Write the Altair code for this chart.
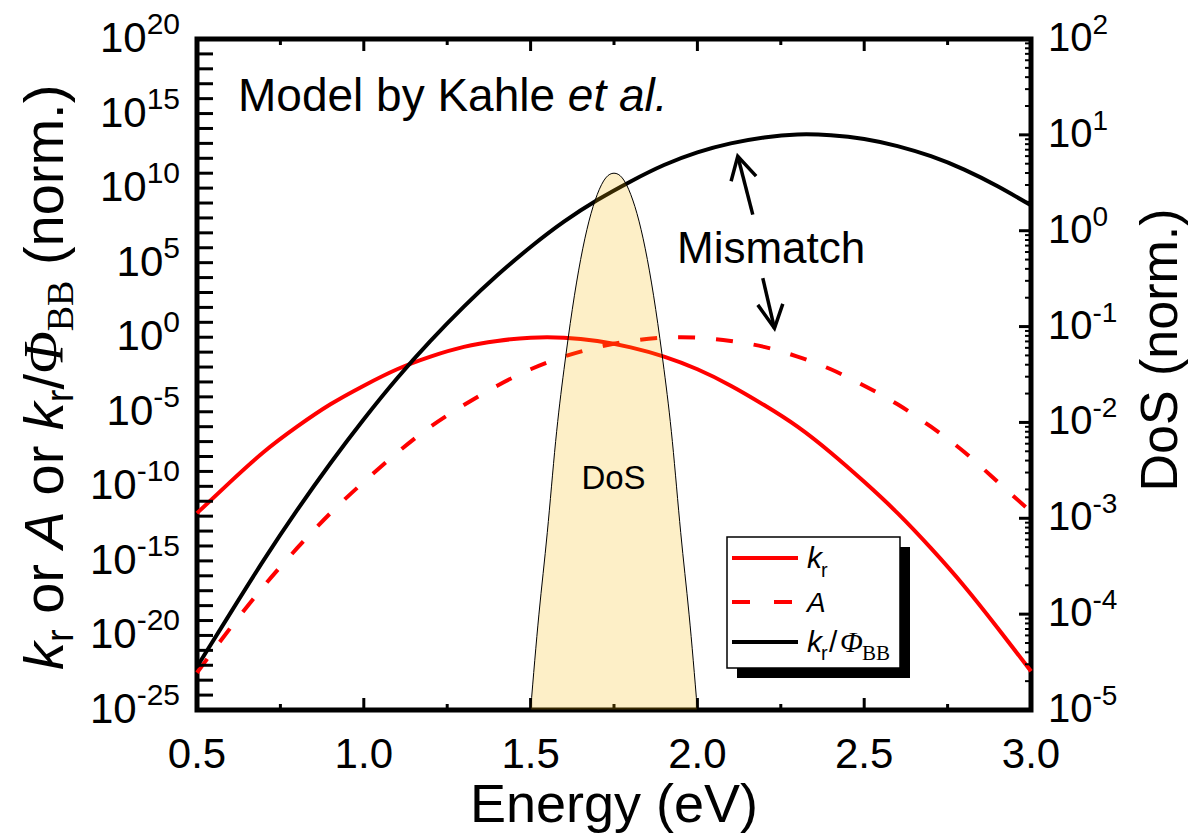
import altair as alt
import pandas as pd

# ---------------- data (log10 values) ----------------
energy = [0.5, 0.6, 0.7, 0.8, 0.9, 1.0, 1.1, 1.2, 1.3, 1.4, 1.5, 1.6, 1.7,
          1.8, 1.9, 2.0, 2.1, 2.2, 2.3, 2.4, 2.5, 2.6, 2.7, 2.8, 2.9, 3.0]
log_kr = [-11.8, -9.7, -7.7, -6.0, -4.5, -3.25, -2.15, -1.3, -0.65, -0.25, -0.03,
          -0.03, -0.25, -0.68, -1.3, -2.15, -3.25, -4.55, -6.0, -7.75, -9.7,
          -11.8, -14.15, -16.7, -19.5, -22.4]
log_A = [-22.5, -19.5, -16.7, -14.15, -11.8, -9.7, -7.75, -6.0, -4.55, -3.25,
         -2.15, -1.3, -0.68, -0.25, -0.03, -0.03, -0.25, -0.65, -1.3, -2.15,
         -3.25, -4.5, -6.0, -7.7, -9.7, -11.7]
log_kbb = [-22.1, -18.5, -14.95, -11.6, -8.45, -5.5, -2.75, -0.25, 2.05, 4.15,
           6.05, 7.75, 9.2, 10.45, 11.55, 12.4, 13.0, 13.4, 13.6, 13.55, 13.3,
           12.82, 12.14, 11.24, 10.12, 8.85]

dos_energy = [1.5, 1.525, 1.55, 1.575, 1.6, 1.625, 1.65, 1.675, 1.7, 1.725, 1.75,
              1.775, 1.8, 1.825, 1.85, 1.875, 1.9, 1.925, 1.95, 1.975, 2.0]
log_dos = [-5.0, -4.0, -3.15, -2.2, -1.45, -0.82, -0.3, 0.1, 0.38, 0.55, 0.6,
           0.55, 0.38, 0.1, -0.3, -0.82, -1.45, -2.2, -3.15, -4.0, -5.0]
dos_floor = 1e-5

# tick labels
left_exps = [20, 15, 10, 5, 0, -5, -10, -15, -20, -25]
right_exps = [2, 1, 0, -1, -2, -3, -4, -5]
x_major = [0.5, 1.0, 1.5, 2.0, 2.5, 3.0]
x_minor = [0.75, 1.25, 1.75, 2.25, 2.75]

# annotation arrows (energy, log10 value), group
arrow_E = [2.166, 2.121, 2.101, 2.121, 2.176, 2.196, 2.231, 2.181, 2.231, 2.256]
arrow_v = [8.22, 12.14, 10.46, 12.14, 10.8, 3.96, 0.6, 2.17, 0.6, 2.24]
arrow_g = [0, 0, 1, 1, 1, 2, 2, 3, 3, 3]

# ---------------- layout ----------------
W, H = 834, 671
SANS = "Liberation Sans"
SERIF = "Liberation Serif"

xs = alt.Scale(domain=[0.5, 3.0], nice=False, zero=False)
yl = alt.Scale(type="log", domain=[1e-25, 1e20], nice=False)
yr = alt.Scale(type="log", domain=[1e-5, 1e2], nice=False)

curves = pd.DataFrame({
    "E": energy,
    "kr": [10.0 ** v for v in log_kr],
    "A": [10.0 ** v for v in log_A],
    "kbb": [10.0 ** v for v in log_kbb],
})
dos = pd.DataFrame({"E": dos_energy, "d": [10.0 ** v for v in log_dos]})
arrows = pd.DataFrame({"E": arrow_E, "v": [10.0 ** v for v in arrow_v],
                       "g": arrow_g, "o": list(range(len(arrow_E)))})

X = alt.X("E:Q", scale=xs, axis=None)

line_kr = alt.Chart(curves).mark_line(color="#ff0000", strokeWidth=4, interpolate="natural").encode(
    x=X, y=alt.Y("kr:Q", scale=yl, axis=None))
line_A = alt.Chart(curves).mark_line(color="#ff0000", strokeWidth=4, strokeDash=[17, 21],
                                     interpolate="natural").encode(
    x=X, y=alt.Y("A:Q", scale=yl, axis=None))
line_k = alt.Chart(curves).mark_line(color="black", strokeWidth=4, interpolate="natural").encode(
    x=X, y=alt.Y("kbb:Q", scale=yl, axis=None))

dos_area = alt.Chart(dos).mark_area(fill="#F5B400", fillOpacity=0.22, stroke="black",
                                    strokeWidth=1, interpolate="natural").encode(
    x=X, y=alt.Y("d:Q", scale=yr, axis=None), y2=alt.datum(dos_floor))

arrow_layer = alt.Chart(arrows).mark_line(color="black", strokeWidth=3.5).encode(
    x=X, y=alt.Y("v:Q", scale=yl, axis=None), detail="g:N", order="o:Q")

# ticks (inward)
lt = pd.DataFrame({"v": [10.0 ** k for k in range(-25, 21)]})
left_ticks = alt.Chart(lt).mark_rule(color="black", strokeWidth=3).encode(
    y=alt.Y("v:Q", scale=yl, axis=None), x=alt.value(0), x2=alt.value(16))

rmaj = pd.DataFrame({"v": [10.0 ** k for k in range(-5, 3)]})
rmin = pd.DataFrame({"v": [m * 10.0 ** k for k in range(-5, 2) for m in range(2, 10)]})
right_major = alt.Chart(rmaj).mark_rule(color="black", strokeWidth=3).encode(
    y=alt.Y("v:Q", scale=yr, axis=None), x=alt.value(W - 12), x2=alt.value(W))
right_minor = alt.Chart(rmin).mark_rule(color="black", strokeWidth=2).encode(
    y=alt.Y("v:Q", scale=yr, axis=None), x=alt.value(W - 6), x2=alt.value(W))

xmaj = pd.DataFrame({"t": x_major})
xmin = pd.DataFrame({"t": x_minor})
XT = alt.X("t:Q", scale=xs, axis=None)
bot_major = alt.Chart(xmaj).mark_rule(color="black", strokeWidth=3).encode(
    x=XT, y=alt.value(H), y2=alt.value(H - 12))
bot_minor = alt.Chart(xmin).mark_rule(color="black", strokeWidth=3).encode(
    x=XT, y=alt.value(H), y2=alt.value(H - 6))
top_major = alt.Chart(xmaj).mark_rule(color="black", strokeWidth=3).encode(
    x=XT, y=alt.value(0), y2=alt.value(12))
top_minor = alt.Chart(xmin).mark_rule(color="black", strokeWidth=3).encode(
    x=XT, y=alt.value(0), y2=alt.value(6))

# tick labels
x_labels = alt.Chart(xmaj).mark_text(font=SANS, fontSize=42, align="center",
                                     baseline="alphabetic", color="black").encode(
    x=XT, y=alt.value(H + 58), text=alt.Text("t:Q", format=".1f"))

LX = -17
ldf = pd.DataFrame({"v": [10.0 ** e for e in left_exps], "exp": [str(e) for e in left_exps]})
left_ten = alt.Chart(ldf).transform_calculate(
    xp=f"{LX} - 16.7*length(replace(datum.exp, '-', '')) - (indexof(datum.exp, '-') >= 0 ? 10 : 0)"
).mark_text(font=SANS, fontSize=42, align="right", baseline="middle", color="black").encode(
    y=alt.Y("v:Q", scale=yl, axis=None), x=alt.X("xp:Q", scale=None), text=alt.value("10"))
left_exp = alt.Chart(ldf).mark_text(font=SANS, fontSize=30, align="right", baseline="middle",
                                    dy=-14, color="black").encode(
    y=alt.Y("v:Q", scale=yl, axis=None), x=alt.value(LX), text="exp:N")

RX = W + 17
rdf = pd.DataFrame({"v": [10.0 ** e for e in right_exps], "exp": [str(e) for e in right_exps]})
right_ten = alt.Chart(rdf).mark_text(font=SANS, fontSize=40, align="left", baseline="middle",
                                     color="black").encode(
    y=alt.Y("v:Q", scale=yr, axis=None), x=alt.value(RX), text=alt.value("10"))
right_exp = alt.Chart(rdf).mark_text(font=SANS, fontSize=28, align="left", baseline="middle",
                                     dy=-13, color="black").encode(
    y=alt.Y("v:Q", scale=yr, axis=None), x=alt.value(RX + 44.5), text="exp:N")

one = pd.DataFrame({"a": [0]})


def T(s, x, y, size, font=SANS, style="normal", angle=0, align="left", baseline="alphabetic"):
    return alt.Chart(one).mark_text(text=s, font=font, fontSize=size, fontStyle=style,
                                    angle=angle, align=align, baseline=baseline,
                                    color="black").encode(x=alt.value(x), y=alt.value(y))


texts = []
# left y title (rotated, reading upward), pieces placed along y
main, sub = 56, 38
xb, xsub = -134, -124
y = 631.0
pieces = [
    ("k", main, SANS, "italic", False, 0.5 * main),
    ("r", sub, SANS, "normal", True, 0.333 * sub + 0.278 * main),
    ("or", main, SANS, "normal", False, 0.889 * main + 0.278 * main),
    ("A", main, SANS, "italic", False, 0.667 * main + 0.278 * main),
    ("or", main, SANS, "normal", False, 0.889 * main + 0.278 * main),
    ("k", main, SANS, "italic", False, 0.5 * main),
    ("r", sub, SANS, "normal", True, 0.333 * sub),
    ("/", main, SANS, "normal", False, 0.278 * main),
    ("Φ", main, SERIF, "italic", False, 0.76 * main),
    ("BB", sub, SERIF, "normal", True, 1.334 * sub + 0.278 * main),
    ("(norm.)", main, SANS, "normal", False, 3.222 * main),
]
for s, size, font, style, is_sub, adv in pieces:
    texts.append(T(s, xsub if is_sub else xb, y, size, font, style, angle=270))
    y -= adv

# right y title
texts.append(T("DoS (norm.)", 980, 311, 52, angle=270, align="center"))
# x title
texts.append(T("Energy (eV)", W / 2, H + 112, 54, align="center"))
# annotations
texts.append(T("Model by Kahle ", 41, 72, 46))
texts.append(T("et al.", 41 + 7.17 * 46, 72, 46, style="italic"))
texts.append(T("Mismatch", 480, 224, 44))
texts.append(T("DoS", 416.5, 450, 33, align="center"))

# legend box with shadow
shadow = alt.Chart(one).mark_rect(fill="black").encode(
    x=alt.value(540), x2=alt.value(713), y=alt.value(508), y2=alt.value(639))
box = alt.Chart(one).mark_rect(fill="white", stroke="black", strokeWidth=1.5).encode(
    x=alt.value(530), x2=alt.value(703), y=alt.value(498), y2=alt.value(629))
lg1 = alt.Chart(one).mark_rule(color="#ff0000", strokeWidth=4).encode(
    x=alt.value(535), x2=alt.value(601), y=alt.value(519))
lg2 = alt.Chart(one).mark_rule(color="#ff0000", strokeWidth=4, strokeDash=[18, 24]).encode(
    x=alt.value(535), x2=alt.value(601), y=alt.value(563))
lg3 = alt.Chart(one).mark_rule(color="black", strokeWidth=4).encode(
    x=alt.value(535), x2=alt.value(601), y=alt.value(603))
legend_txt = [
    T("k", 610, 529, 30, style="italic"),
    T("r", 624, 538, 20),
    T("A", 610, 573, 28, style="italic"),
    T("k", 610, 613, 30, style="italic"),
    T("r", 624, 621, 20),
    T("/", 632, 613, 30),
    T("Φ", 643, 613, 30, font=SERIF, style="italic"),
    T("BB", 665, 621, 21, font=SERIF),
]

chart = alt.layer(
    line_kr, line_A, line_k,
    left_ticks, right_major, right_minor, bot_major, bot_minor, top_major, top_minor,
    dos_area, arrow_layer,
    x_labels, left_ten, left_exp, right_ten, right_exp,
    *texts,
    shadow, box, lg1, lg2, lg3, *legend_txt,
).resolve_scale(y="independent").properties(
    width=W, height=H,
    autosize=alt.AutoSizeParams(type="none"),
    padding={"left": 197, "top": 39, "right": 1193 - 197 - W, "bottom": 834 - 39 - H},
    background="white",
).configure_view(stroke="black", strokeWidth=5)

chart.save("out.html", embed_options={"renderer": "svg", "actions": False})
